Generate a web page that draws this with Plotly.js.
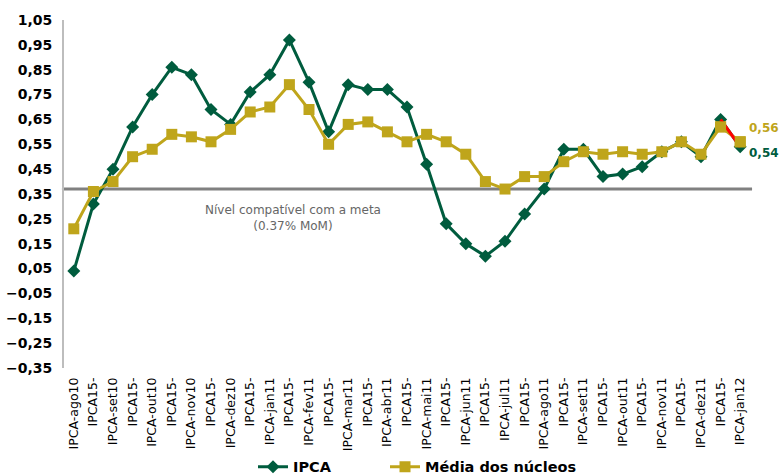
<!DOCTYPE html>
<html><head><meta charset="utf-8">
<script src="https://cdn.plot.ly/plotly-3.0.1.min.js"></script>
<style>html,body{margin:0;padding:0;background:#fff;}#chart{width:780px;height:475px;}</style>
</head><body><div id="chart"></div>
<script>
const categories = ["IPCA-ago10","IPCA15-set10","IPCA-set10","IPCA15-out10","IPCA-out10","IPCA15-nov10","IPCA-nov10","IPCA15-dez10","IPCA-dez10","IPCA15-jan11","IPCA-jan11","IPCA15-fev11","IPCA-fev11","IPCA15-mar11","IPCA-mar11","IPCA15-abr11","IPCA-abr11","IPCA15-mai11","IPCA-mai11","IPCA15-jun11","IPCA-jun11","IPCA15-jul11","IPCA-jul11","IPCA15-ago11","IPCA-ago11","IPCA15-set11","IPCA-set11","IPCA15-out11","IPCA-out11","IPCA15-nov11","IPCA-nov11","IPCA15-dez11","IPCA-dez11","IPCA15-jan12","IPCA-jan12"];
const tickLabels = ["IPCA-ago10","IPCA15-","IPCA-set10","IPCA15-","IPCA-out10","IPCA15-","IPCA-nov10","IPCA15-","IPCA-dez10","IPCA15-","IPCA-jan11","IPCA15-","IPCA-fev11","IPCA15-","IPCA-mar11","IPCA15-","IPCA-abr11","IPCA15-","IPCA-mai11","IPCA15-","IPCA-jun11","IPCA15-","IPCA-jul11","IPCA15-","IPCA-ago11","IPCA15-","IPCA-set11","IPCA15-","IPCA-out11","IPCA15-","IPCA-nov11","IPCA15-","IPCA-dez11","IPCA15-","IPCA-jan12"];
const ipca = [0.04,0.31,0.45,0.62,0.75,0.86,0.83,0.69,0.63,0.76,0.83,0.97,0.80,0.60,0.79,0.77,0.77,0.70,0.47,0.23,0.15,0.10,0.16,0.27,0.37,0.53,0.53,0.42,0.43,0.46,0.52,0.56,0.50,0.65,0.54];
const mediaNucleos = [0.21,0.36,0.40,0.50,0.53,0.59,0.58,0.56,0.61,0.68,0.70,0.79,0.69,0.55,0.63,0.64,0.60,0.56,0.59,0.56,0.51,0.40,0.37,0.42,0.42,0.48,0.52,0.51,0.52,0.51,0.52,0.56,0.51,0.62,0.56];
const metaLevel = 0.37;
const metaText = "Nível compatível com a meta<br>(0.37% MoM)";

const GREEN = '#005C3E', GOLD = '#BFA51B', RED = '#FF0000';
const FONT = 'DejaVu Sans, Verdana, sans-serif';
const fmt = v => v.toFixed(2).replace('.', ',');
const n = categories.length;

const traces = [
  {x: categories, y: ipca, name: 'IPCA', mode: 'lines+markers', legend: 'legend',
   line: {color: GREEN, width: 3}, marker: {symbol: 'diamond', size: 10, color: GREEN}},
  {x: categories, y: mediaNucleos, name: 'Média dos núcleos', mode: 'lines+markers', legend: 'legend2',
   line: {color: GOLD, width: 3}, marker: {symbol: 'square', size: 11, color: GOLD}},
  {x: categories.slice(n-2), y: ipca.slice(n-2), mode: 'lines', showlegend: false,
   line: {color: RED, width: 3}, hoverinfo: 'skip'},
  {x: categories.slice(n-2), y: mediaNucleos.slice(n-2), mode: 'markers', showlegend: false,
   marker: {symbol: 'square', size: 11, color: GOLD}, hoverinfo: 'skip'}
];

const legendFont = {family: FONT, size: 14.5, color: '#000', weight: 'bold'};
const layout = {
  width: 780, height: 475,
  margin: {l: 64, r: 30, t: 20, b: 107, pad: 0, autoexpand: false},
  paper_bgcolor: '#fff', plot_bgcolor: '#fff',
  separators: ',.',
  font: {family: FONT, color: '#000'},
  showlegend: true,
  legend: {orientation: 'h', x: (253 - 64) / 686, xanchor: 'left', y: -0.238, yanchor: 'top',
           font: legendFont, bgcolor: 'rgba(0,0,0,0)'},
  legend2: {orientation: 'h', x: (385 - 64) / 686, xanchor: 'left', y: -0.238, yanchor: 'top',
           font: legendFont, bgcolor: 'rgba(0,0,0,0)'},
  xaxis: {type: 'category', tickmode: 'array', tickvals: categories, ticktext: tickLabels,
          tickangle: -90, tickfont: {family: FONT, size: 12.5, color: '#000'},
          showgrid: false, zeroline: false, showline: false, ticks: '', ticklabelstandoff: 6,
          range: [-0.5, n - 0.5]},
  yaxis: {range: [-0.35, 1.05], tick0: -0.35, dtick: 0.1, tickformat: '.2f',
          tickfont: {family: FONT, size: 14, color: '#000', weight: 'bold'},
          showgrid: false, zeroline: false, showline: true, linecolor: '#BDBDBD', linewidth: 2,
          ticks: '', ticklabelstandoff: 7},
  shapes: [{type: 'line', xref: 'paper', yref: 'y', x0: -0.003, x1: 1.003, y0: metaLevel, y1: metaLevel,
            line: {color: '#808080', width: 3}, layer: 'below'}],
  annotations: [
    {xref: 'paper', yref: 'paper', x: 0.334, y: (metaLevel + 0.35) / 1.4, yshift: -12, yanchor: 'top',
     text: metaText, showarrow: false, align: 'center',
     font: {family: FONT, size: 12, color: '#666666'}},
    {x: categories[n-1], y: mediaNucleos[n-1], xanchor: 'left', xshift: 7, yshift: 14,
     text: fmt(mediaNucleos[n-1]), showarrow: false,
     font: {family: FONT, size: 12, color: GOLD, weight: 'bold'}},
    {x: categories[n-1], y: ipca[n-1], xanchor: 'left', xshift: 7, yshift: -6,
     text: fmt(ipca[n-1]), showarrow: false,
     font: {family: FONT, size: 12, color: GREEN, weight: 'bold'}}
  ]
};

Plotly.newPlot('chart', traces, layout, {displayModeBar: false, staticPlot: true});
</script>
</body></html>
